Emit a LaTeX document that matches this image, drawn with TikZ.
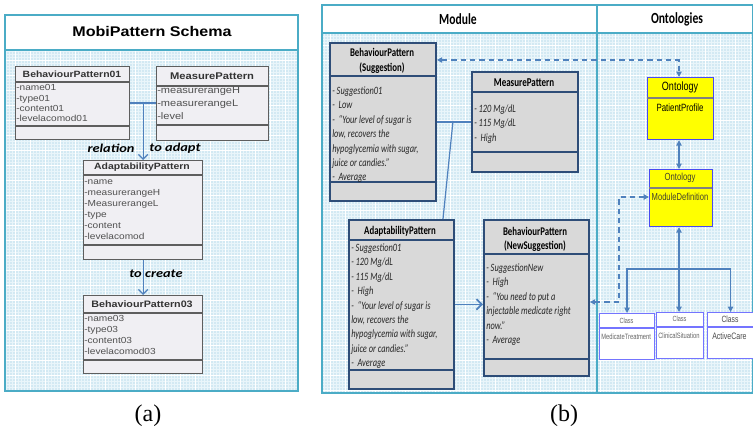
\documentclass[tikz,border=0pt]{standalone}
\usepackage{fontspec}
\setmainfont{Liberation Serif}
\newfontfamily\lsans[FakeStretch=1.15]{Liberation Sans}
\newfontfamily\lcal[FakeStretch=1.2]{Carlito}
\newfontfamily\rcal[FakeStretch=0.75]{Carlito}
\newfontfamily\rsans[FakeStretch=0.75]{Liberation Sans}
\usetikzlibrary{arrows.meta}

\definecolor{frameteal}{HTML}{4BACC6}
\definecolor{gridbase}{HTML}{D3E9F3}
\definecolor{gridline}{HTML}{E9F5FA}
\definecolor{umlfill}{HTML}{F0EFF3}
\definecolor{umledge}{HTML}{5E5E5E}
\definecolor{umltext}{HTML}{505050}
\definecolor{linkblue}{HTML}{4F81BD}
\definecolor{boxfill}{HTML}{D9D9D9}
\definecolor{boxedge}{HTML}{2E4D78}
\definecolor{ontyellow}{HTML}{FFFF00}
\definecolor{ontedge}{HTML}{4A4AF0}
\definecolor{classedge}{HTML}{7474FF}

% box of given corners (x1,y1)-(x2,y2) in pixel units
\newcommand{\umlbox}[6]{\node[#6, anchor=north west, inner sep=0pt,
  minimum width={(#4-#2)*0.75pt}, minimum height={(#5-#3)*0.75pt}] (#1) at (#2,#3) {};}
% panel background with a fine grid
\newcommand{\gridpanel}[4]{%
  \fill[gridbase] (#1,#4) rectangle (#3,#2);
  \draw[gridline, line width=0.25pt, step=2.25pt] (#1,#4) grid (#3,#2);
  \draw[white, line width=0.5pt, step=11.25pt] (#1,#4) grid (#3,#2);}

\begin{document}
\begin{tikzpicture}[x=0.75pt, y=-0.75pt,
  lbox/.style={draw=umledge, fill=umlfill, line width=0.9pt},
  lhead/.style={font=\lsans\bfseries\fontsize{6.8}{8}\selectfont, text=black!80, inner sep=0pt},
  lattr/.style={font=\lsans\fontsize{6.6}{7.9}\selectfont, text=umltext, align=left, anchor=north west, inner sep=0pt},
  rel/.style={font=\lcal\bfseries\itshape\fontsize{9}{10}\selectfont, inner sep=0pt},
  link/.style={draw=linkblue, line width=0.9pt},
  vtip/.style={-{Straight Barb[length=3.5pt,width=7pt]}},
  rbox/.style={draw=boxedge, fill=boxfill, line width=1.4pt},
  rhead/.style={font=\rcal\bfseries\fontsize{8.8}{11}\selectfont, align=center, inner sep=0pt},
  rbody/.style={font=\rcal\itshape\fontsize{8.4}{10.8}\selectfont, text=black!85, align=left, anchor=north west, inner sep=0pt},
  ontbox/.style={draw=ontedge, fill=ontyellow, line width=0.9pt},
  classbox/.style={draw=classedge, fill=white, line width=0.8pt},
  dashlink/.style={draw=linkblue, line width=1.1pt, dash pattern=on 4pt off 3pt},
  ttip/.style={-{Triangle[length=4pt,width=4pt]}},
  panelhead/.style={font=\rcal\bfseries\fontsize{11.6}{13}\selectfont, inner sep=0pt}]
\useasboundingbox (0,0) rectangle (753,435);
\fill[white] (0,0) rectangle (753,435);

% ---------------- panel (a) ----------------
\gridpanel{5}{50}{298}{391}
\fill[white] (5,15) rectangle (298,50);
\draw[frameteal, line width=1.2pt] (5,15) rectangle (298,391);
\draw[frameteal, line width=2pt] (5,50) -- (298,50);
\node[font=\lsans\bfseries\fontsize{10.5}{12}\selectfont, inner sep=0pt] (ltitle) at (152,31) {MobiPattern Schema};

\umlbox{bp1}{15}{66}{129}{139}{lbox}
\draw[umledge, line width=0.9pt] (15,82) -- (129,82) (15,126) -- (129,126);
\node[lhead] (bp1h) at (72,74) {BehaviourPattern01};
\node[lattr, font=\lsans\fontsize{6.6}{7.75}\selectfont] (bp1a) at (16,84.5) {-name01\\-type01\\-content01\\-levelacomod01};

\umlbox{mp}{156}{66}{268}{140}{lbox}
\draw[umledge, line width=0.9pt] (156,86) -- (268,86) (156,125) -- (268,125);
\node[lhead, font=\lsans\bfseries\fontsize{7.3}{8.5}\selectfont] (mph) at (212,76) {MeasurePattern};
\node[lattr, font=\lsans\fontsize{7.2}{9.6}\selectfont] (mpa) at (157,87) {-measurerangeH\\-measurerangeL\\-level};

\umlbox{ap}{83}{160}{202}{259}{lbox}
\draw[umledge, line width=0.9pt] (83,175) -- (202,175) (83,245) -- (202,245);
\node[lhead] (aph) at (142,167) {AdaptabilityPattern};
\node[lattr, font=\lsans\fontsize{6.6}{8.25}\selectfont] (apa) at (84,179.5) {-name\\-measurerangeH\\-MeasurerangeL\\-type\\-content\\-levelacomod};

\umlbox{bp3}{83}{295}{202}{373}{lbox}
\draw[umledge, line width=0.9pt] (83,313) -- (202,313) (83,360) -- (202,360);
\node[lhead, font=\lsans\bfseries\fontsize{7}{8}\selectfont] (bp3h) at (142,304) {BehaviourPattern03};
\node[lattr, font=\lsans\fontsize{6.6}{8.25}\selectfont] (bp3a) at (84,315.5) {-name03\\-type03\\-content03\\-levelacomod03};

\coordinate (j1) at (ap.north |- bp1.east);
\draw[link] (bp1.east) -- (mp.west |- bp1.east);
\draw[link, vtip] (j1) -- (ap.north);
\draw[link, vtip] (ap.south) -- (bp3.north);
\node[rel] (relA) at (111,148) {relation};
\node[rel] (relB) at (175,148) {to adapt};
\node[rel] (relC) at (156,274) {to\hspace{2.5pt}create};

% ---------------- panel (b) ----------------
\gridpanel{322}{33}{753}{393}
\fill[white] (322,5) rectangle (753,33);
\draw[frameteal, line width=1.2pt] (322,5) rectangle (752.3,393);
\draw[frameteal, line width=2.2pt] (322,33) -- (753,33);
\draw[frameteal, line width=1.2pt] (597,5) -- (597,393);
\node[panelhead] (hmod) at (458,19) {Module};
\node[panelhead] (hont) at (677,19) {Ontologies};

% suggestion pattern
\umlbox{bps}{329}{42}{435}{200}{rbox}
\draw[boxedge, line width=1.4pt] (329,76) -- (435,76) (329,182) -- (435,182);
\node[rhead] (bpsh) at (382,61) {BehaviourPattern\\(Suggestion)};
\node[rbody] (bpsb) at (332,86.5) {-\,Suggestion01\\-\ \ Low\\-\ \ “Your level of sugar is\\low, recovers the\\hypoglycemia with sugar,\\juice or candies.”\\-\ \ Average};

% measure pattern
\umlbox{mp2}{471}{71}{577}{171}{rbox}
\draw[boxedge, line width=1.4pt] (471,92) -- (577,92) (471,152) -- (577,152);
\node[rhead, font=\rcal\bfseries\fontsize{9}{11}\selectfont] (mp2h) at (524,83) {MeasurePattern};
\node[rbody] (mp2b) at (474,104.5) {-\,120 Mg/dL\\-\,115 Mg/dL\\-\ \ High};

% adaptability pattern
\umlbox{ap2}{348}{219}{453}{388}{rbox}
\draw[boxedge, line width=1.4pt] (348,240) -- (453,240) (348,370) -- (453,370);
\node[rhead] (ap2h) at (400,231) {AdaptabilityPattern};
\node[rbody] (ap2b) at (351,243.5) {-\,Suggestion01\\-\,120 Mg/dL\\-\,115 Mg/dL\\-\ \ High\\-\ \ “Your level of sugar is\\low, recovers the\\hypoglycemia with sugar,\\juice or candies.”\\-\ \ Average};

% new suggestion pattern
\umlbox{bpn}{483}{219}{588}{375}{rbox}
\draw[boxedge, line width=1.4pt] (483,254) -- (588,254) (483,359) -- (588,359);
\node[rhead] (bpnh) at (535,239.5) {BehaviourPattern\\(NewSuggestion)};
\node[rbody] (bpnb) at (486,263.5) {-\,SuggestionNew\\-\ \ High\\-\ \ “You need to put a\\injectable medicate right\\now.”\\-\ \ Average};

% links inside the module column
\coordinate (j2) at (453,121);
\coordinate (j3) at (443,219);
\draw[link, line width=1.1pt] (bps.east) -- (mp2.west);
\draw[link] (j2) -- (j3);
\draw[link, line width=1.3pt, -{Straight Barb[length=4pt,width=8pt]}] (ap2.east) -- (ap2.east -| bpn.west);

% ontologies
\umlbox{pp}{647}{77}{713}{139}{ontbox}
\draw[gray, line width=1.4pt] (647,98) -- (713,98);
\node[font=\rsans\fontsize{9}{10}\selectfont, inner sep=0pt] (pph) at (680,87) {Ontology};
\node[font=\rsans\fontsize{7.9}{9}\selectfont, inner sep=0pt] (ppt) at (680,108) {PatientProfile};

\umlbox{md}{649}{169}{712}{226}{ontbox}
\draw[gray, line width=1.4pt] (649,188) -- (712,188);
\node[font=\rsans\fontsize{7.7}{9}\selectfont, text=black!70!olive, inner sep=0pt] (mdh) at (680,178) {Ontology};
\node[font=\rsans\fontsize{7.6}{9}\selectfont, text=black!70!olive, inner sep=0pt] (mdt) at (680,197) {ModuleDefinition};

\draw[link, line width=1pt, {Triangle[length=4pt,width=4pt]}-{Triangle[length=4pt,width=4pt]}] (pp.south -| 679,0) -- (md.north -| 679,0);

% dashed references
\coordinate (d1) at (679,60);
\coordinate (d2) at (619,197);
\coordinate (d3) at (619,302);
\draw[dashlink, {Triangle[length=4pt,width=4pt]}-{Triangle[length=4pt,width=4pt]}] (bps.east |- d1) -- (d1) -- (pp.north -| d1);
\draw[dashlink, {Triangle[length=4pt,width=4pt]}-{Triangle[length=4pt,width=4pt]}] (bpn.east |- d3) -- (d3) -- (d2) -- (md.west |- d2);

% classes
\umlbox{c1}{599}{313}{654}{359}{classbox}
\draw[classedge, line width=1pt] (599,328) -- (654,328);
\node[font=\rsans\fontsize{5.6}{6}\selectfont, text=black!60, inner sep=0pt] (c1h) at (626.5,321) {Class};
\node[font=\rsans\fontsize{5.8}{6}\selectfont, text=black!60, anchor=west, inner sep=0pt] (c1t) at (601,337) {MedicateTreatment};

\umlbox{c2}{656}{312}{703}{358}{classbox}
\draw[classedge, line width=1pt] (656,327) -- (703,327);
\node[font=\rsans\fontsize{5.6}{6}\selectfont, text=black!60, inner sep=0pt] (c2h) at (679.5,319) {Class};
\node[font=\rsans\fontsize{5.8}{6}\selectfont, text=black!60, anchor=west, inner sep=0pt] (c2t) at (658,336) {ClinicalSituation};

\umlbox{c3}{707}{312}{753}{358}{classbox}
\draw[classedge, line width=1pt] (707,327) -- (753,327);
\node[font=\rsans\fontsize{6.8}{8}\selectfont, text=black!70, inner sep=0pt] (c3h) at (730,319) {Class};
\node[font=\rsans\fontsize{7}{8}\selectfont, text=black!70, anchor=west, inner sep=0pt] (c3t) at (712,336) {ActiveCare};

\coordinate (t0) at (679,269);
\draw[link, line width=1.4pt, ttip] (t0) -- (md.south -| t0);
\draw[link, ttip] (t0) -| (c1.north);
\draw[link, ttip] (t0) -- (c2.north -| t0);
\draw[link, ttip] (t0) -| (c3.north);

% captions
\node[font=\fontsize{18}{20}\selectfont, inner sep=0pt] (capa) at (148,416) {(a)};
\node[font=\fontsize{18}{20}\selectfont, inner sep=0pt] (capb) at (564,416) {(b)};
\end{tikzpicture}
\end{document}
